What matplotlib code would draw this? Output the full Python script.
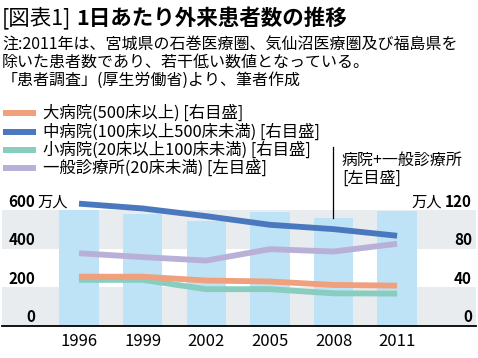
import matplotlib
matplotlib.use("Agg")
import matplotlib.pyplot as plt
from matplotlib.lines import Line2D

plt.rcParams['font.family'] = ['Noto Sans CJK JP', 'DejaVu Sans']

# データ（単位：万人）
years = ['1996', '1999', '2002', '2005', '2008', '2011']
total_all = [600, 581, 543, 590, 562, 598]          # 病院+一般診療所 [左目盛]
large_hosp = [51, 51, 47, 46, 42.4, 41.7]           # 大病院 [右目盛]
mid_hosp = [127, 122, 114, 105, 100.5, 93.6]        # 中病院 [右目盛]
small_hosp = [47.7, 47.7, 38, 38, 33.7, 33.4]       # 小病院 [右目盛]
clinic = [377, 357, 339, 398, 386, 426]             # 一般診療所 [左目盛]
left_ticks = [0, 200, 400, 600]
right_ticks = [0, 40, 80, 120]

series_labels = ['大病院(500床以上) [右目盛]',
                 '中病院(100床以上500床未満) [右目盛]',
                 '小病院(20床以上100床未満) [右目盛]',
                 '一般診療所(20床未満) [左目盛]']
colors = ['#F0A07C', '#4A78BE', '#88CDBF', '#B9B0D8']
bar_color = '#BEE3F6'
band_color = '#E9ECEF'

W, H = 478, 358
fig = plt.figure(figsize=(W / 100, H / 100), dpi=100)


def fx(px):
    return px / W


def fy(py):
    return 1 - py / H


# 軸の配置（ピクセルから換算）
ax_l, ax_r, ax_b, ax_t = 2, 476, 325.7, 195
ax = fig.add_axes([fx(ax_l), fy(ax_b), fx(ax_r - ax_l), (ax_b - ax_t) / H])
ymax = 680
ax.set_ylim(0, ymax)
ax.set_xlim(-1.21, 6.24)
ax2 = ax.twinx()
ax2.set_ylim(0, ymax / 5)

# 背景の帯
ax.axhspan(0, 200, color=band_color, zorder=0, lw=0)
ax.axhspan(400, 600, color=band_color, zorder=0, lw=0)

x = list(range(len(years)))
ax.bar(x, total_all, width=0.62, color=bar_color, zorder=1)
ax.plot(x, clinic, color=colors[3], lw=4.2, solid_capstyle='butt', zorder=3)
ax2.plot(x, small_hosp, color=colors[2], lw=4.2, solid_capstyle='butt')
ax2.plot(x, large_hosp, color=colors[0], lw=4.2, solid_capstyle='butt')
ax2.plot(x, mid_hosp, color=colors[1], lw=4.2, solid_capstyle='butt')

for a in (ax, ax2):
    for s in ['top', 'left', 'right']:
        a.spines[s].set_visible(False)
    a.set_yticks([])
    a.set_xticks([])
ax.spines['bottom'].set_linewidth(1.3)
ax.spines['bottom'].set_color('black')
ax2.spines['bottom'].set_visible(False)

# 目盛ラベル（軸の内側）
for v in left_ticks:
    ax.annotate(str(v), xy=(fx(35), v), xycoords=('figure fraction', 'data'),
                xytext=(0, 2.5), textcoords='offset points',
                ha='right', va='baseline', fontsize=11, fontweight='bold')
ax.annotate('万人', xy=(fx(37), 600), xycoords=('figure fraction', 'data'),
            xytext=(0, 2.5), textcoords='offset points',
            ha='left', va='baseline', fontsize=11)
for v in right_ticks:
    ax2.annotate(str(v), xy=(fx(472), v), xycoords=('figure fraction', 'data'),
                 xytext=(0, 2.5), textcoords='offset points',
                 ha='right', va='baseline', fontsize=11, fontweight='bold')
ax2.annotate('万人', xy=(fx(442), 120), xycoords=('figure fraction', 'data'),
             xytext=(0, 2.5), textcoords='offset points',
             ha='right', va='baseline', fontsize=11)

# 年ラベル
for i, yr in enumerate(years):
    ax.annotate(yr, xy=(i, 0), xycoords='data', xytext=(0, -11.5),
                textcoords='offset points', ha='center', va='center',
                fontsize=12, annotation_clip=False)

# タイトルと注記
fig.text(fx(2), fy(18), '[図表1]', fontsize=15.5, va='center', ha='left')
fig.text(fx(76), fy(18), '1日あたり外来患者数の推移', fontsize=15.5,
         fontweight='bold', va='center', ha='left')
notes = ['注:2011年は、宮城県の石巻医療圏、気仙沼医療圏及び福島県を',
         '除いた患者数であり、若干低い数値となっている。',
         '「患者調査」(厚生労働省)より、筆者作成']
for i, t in enumerate(notes):
    fig.text(fx(2), fy(45 + 17.6 * i), t, fontsize=11.5, va='center', ha='left')

# 凡例
for i, (lab, c) in enumerate(zip(series_labels, colors)):
    yy = fy(113.5 + 18.3 * i)
    fig.add_artist(Line2D([fx(3), fx(36)], [yy, yy], color=c, lw=4.3,
                          solid_capstyle='butt', transform=fig.transFigure))
    fig.text(fx(43), yy, lab, fontsize=11.8, va='center', ha='left')

# 病院+一般診療所 の注記
fig.add_artist(Line2D([fx(333), fx(333)], [fy(147), fy(218)], color='black',
                      lw=0.9, transform=fig.transFigure))
fig.text(fx(342), fy(160), '病院+一般診療所', fontsize=11.5, va='center', ha='left')
fig.text(fx(342), fy(178), '[左目盛]', fontsize=11.5, va='center', ha='left')

fig.savefig('out.png', dpi=100)
